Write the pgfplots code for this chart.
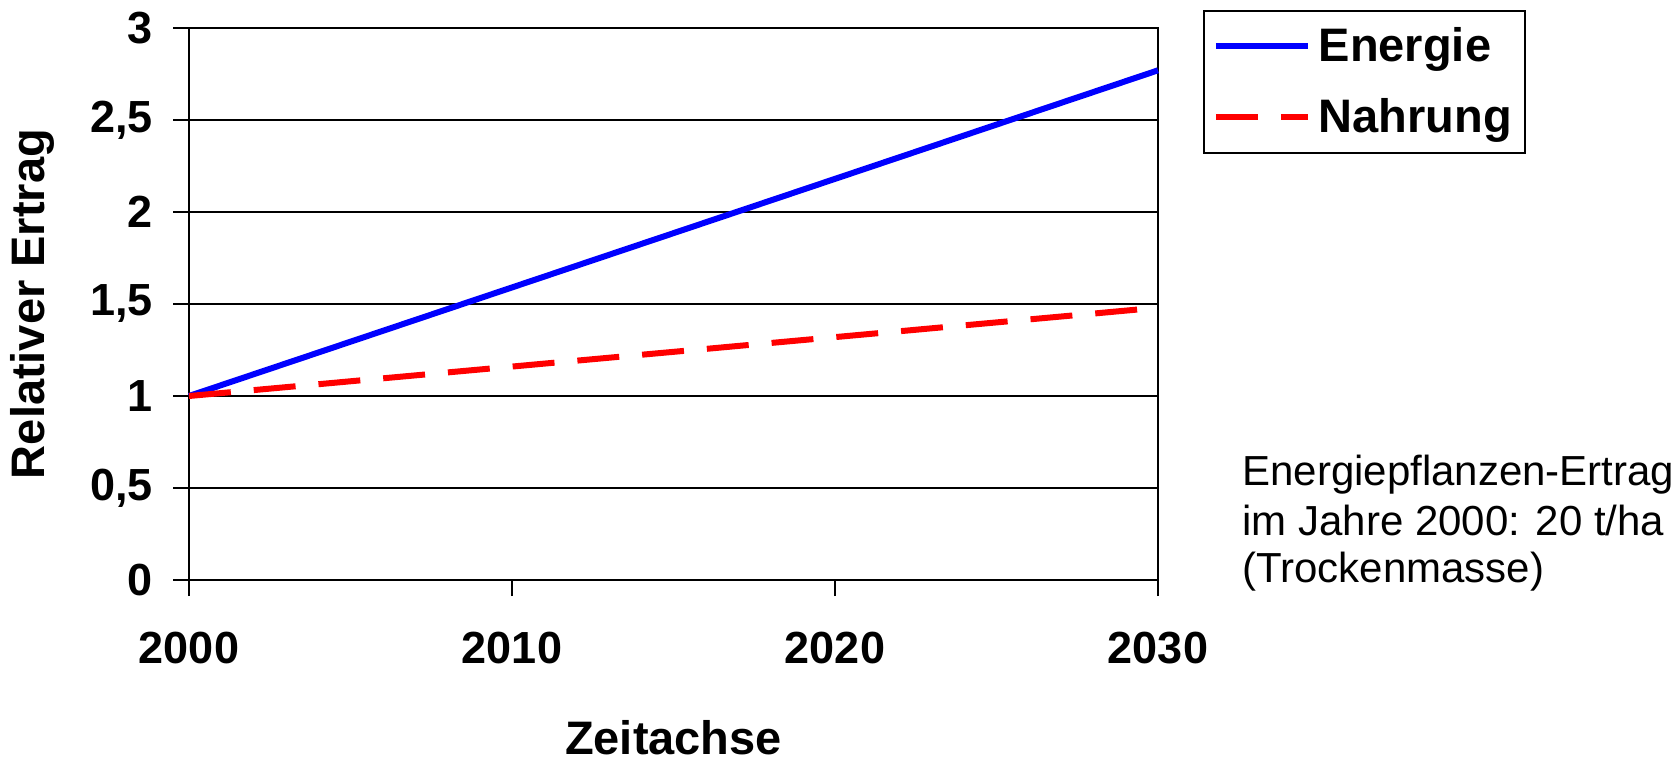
\documentclass[border=0pt]{standalone}
\usepackage{fontspec}
\setmainfont{Liberation Sans}
\usepackage{pgfplots}
\pgfplotsset{compat=1.18}

\begin{document}
\begin{tikzpicture}
\begin{axis}[
  at={(0,0)}, anchor=origin,
  scale only axis, width=484.5pt, height=276pt,
  xmin=2000, xmax=2030, ymin=0, ymax=3,
  xtick={2000,2010,2020,2030}, ytick={0,0.5,...,3},
  xtick pos=bottom, ytick pos=left,
  tick align=outside, major tick length=8pt,
  tick style={black, line width=0.7pt},
  axis line style={line width=0.8pt},
  ymajorgrids, major grid style={black, line width=0.6pt},
  /pgf/number format/assume math mode=true,
  /pgf/number format/use comma,
  /pgf/number format/1000 sep={},
  ticklabel style={font=\bfseries\fontsize{22.5}{26}\selectfont},
  xticklabel style={yshift=-14.5pt},
  yticklabel style={xshift=-6.5pt},
  xlabel={Zeitachse}, ylabel={Relativer Ertrag},
  label style={font=\bfseries\fontsize{23.5}{27}\selectfont},
  xlabel style={at={(0.5,0)}, anchor=center, yshift=-79pt},
  ylabel style={at={(0,0.5)}, anchor=center, yshift=78.5pt},
  legend style={at={(1.0464,1.0326)}, anchor=north west,
    draw=black, line width=0.8pt,
    font=\bfseries\fontsize{23.5}{27}\selectfont,
    row sep=13pt, column sep=2pt, inner xsep=4.5pt, inner ysep=6.5pt},
  legend cell align=left,
  legend image code/.code={\draw[#1] (0pt,0pt) -- (46pt,0pt);},
  clip=false,
]
\addplot[blue, line width=3pt] coordinates {(2000,1) (2010,1.59) (2020,2.18) (2030,2.77)};
\addlegendentry{Energie}
\addplot[red, line width=3pt, dash pattern=on 21pt off 11.5pt] coordinates {(2000,1) (2010,1.16) (2020,1.32) (2030,1.48)};
\addlegendentry{Nahrung}
\begin{scope}[every node/.style={anchor=base west, inner sep=0pt, font=\fontsize{21}{25}\selectfont}]
\node at (rel axis cs:1.0867,0.1721) {Energiepflanzen-Ertrag};
\node at (rel axis cs:1.0867,0.0815) {im Jahre 2000: 20 t/ha};
\node at (rel axis cs:1.0867,-0.0045) {(Trockenmasse)};
\end{scope}
\end{axis}
\path[use as bounding box] (-94.5pt,-89.5pt) rectangle (743.5pt,290pt);
\end{tikzpicture}
\end{document}
